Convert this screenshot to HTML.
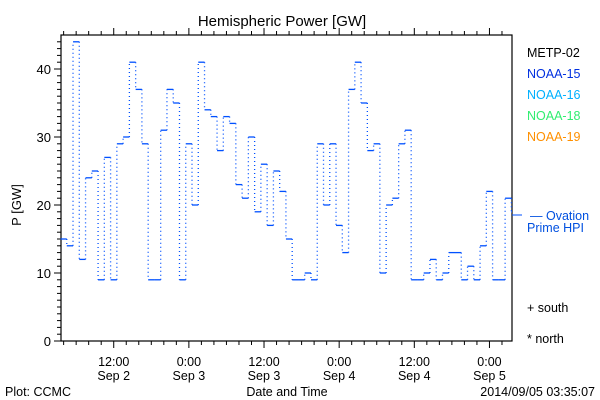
<!DOCTYPE html>
<html><head><meta charset="utf-8"><style>
html,body{margin:0;padding:0;background:#fff;}
svg{display:block;font-family:"Liberation Sans",sans-serif;}
</style></head><body>
<svg id="chart" width="600" height="400" viewBox="0 0 600 400" xmlns="http://www.w3.org/2000/svg">
<rect width="600" height="400" fill="#fff"/>
<text x="282" y="26" font-size="15" text-anchor="middle">Hemispheric Power [GW]</text>
<text transform="translate(21,205) rotate(-90)" font-size="13" text-anchor="middle">P [GW]</text>
<rect x="61" y="35" width="451" height="306" fill="none" stroke="#000" stroke-width="1.2"/>
<g id="yaxis"></g>
<g id="xaxis"></g>
<g id="series"></g>
<line x1="512" y1="215" x2="522" y2="215" stroke="#0050ff" stroke-width="1"/>
<g font-size="12.5">
<text x="527" y="57" fill="#000">METP-02</text>
<text x="527" y="78" fill="#0030e0">NOAA-15</text>
<text x="527" y="99" fill="#00b0ff">NOAA-16</text>
<text x="527" y="120" fill="#30ee70">NOAA-18</text>
<text x="527" y="141" fill="#ff9000">NOAA-19</text>
<text x="530" y="220" fill="#0050e0">— Ovation</text>
<text x="527" y="232" fill="#0050e0">Prime HPI</text>
<text x="527" y="312" fill="#000">+ south</text>
<text x="527" y="343" fill="#000">* north</text>
</g>
<text x="287" y="396" font-size="12.5" text-anchor="middle">Date and Time</text>
<text x="5" y="396" font-size="12.5">Plot: CCMC</text>
<text x="595" y="396" font-size="12.5" text-anchor="end">2014/09/05 03:35:07</text>
</svg>
<script>
const values = [15,14,44,12,24,25,9,27,9,29,30,41,37,29,9,9,31,37,35,9,29,20,41,34,33,28,33,32,23,21,30,19,26,17,25,22,15,9,9,10,9,29,20,29,17,13,37,41,35,28,29,10,20,21,29,31,9,9,10,12,9,10,13,13,9,11,9,14,22,9,9,21,19];
const startHour = 3.5;
const stepHours = 1;
const xTickHours = [12,24,36,48,60,72];
const xTickLine1 = ["12:00","0:00","12:00","0:00","12:00","0:00"];
const xTickLine2 = ["Sep 2","Sep 3","Sep 3","Sep 4","Sep 4","Sep 5"];
const yTicks = [0,10,20,30,40];

const NS="http://www.w3.org/2000/svg";
const L=61,R=512,T=35,B=341,xMin=3.58,xMax=75.6,yMax=45;
const xs=h=>L+(h-xMin)/(xMax-xMin)*(R-L);
const ys=v=>B-v/yMax*(B-T);
function mk(tag,attrs,parent){const e=document.createElementNS(NS,tag);for(const k in attrs)e.setAttribute(k,attrs[k]);parent.appendChild(e);return e;}
const yax=document.getElementById('yaxis'),xax=document.getElementById('xaxis'),ser=document.getElementById('series');
for(let v=0;v<=44;v+=1){
  const y=ys(v),len=(v%10===0)?7:4;
  const t=mk('line',{x1:L-len,y1:y,x2:L,y2:y,stroke:'#000','stroke-width':1},yax);
  
  
}
yTicks.forEach(v=>{
  const t=mk('text',{x:L-10,y:ys(v)+5,'font-size':13,'text-anchor':'end'},yax);
  t.textContent=v;
  
  
});
for(let h=4;h<=75;h+=2){
  const x=xs(h),len=(h%12===0)?7:4;
  const t=mk('line',{x1:x,y1:B,x2:x,y2:B+len,stroke:'#000','stroke-width':1},xax);
  
  
  const t2=mk('line',{x1:x,y1:T,x2:x,y2:T-len,stroke:'#000','stroke-width':1},xax);
  
  
}
xTickHours.forEach((h,i)=>{
  const a=mk('text',{x:xs(h),y:366,'font-size':12.5,'text-anchor':'middle'},xax);
  a.textContent=xTickLine1[i];
  
  
  const b=mk('text',{x:xs(h),y:380,'font-size':12.5,'text-anchor':'middle'},xax);
  b.textContent=xTickLine2[i];
  
  
});
const col='#0050ff';
values.forEach((v,i)=>{
  const h0=startHour+i*stepHours,h1=Math.min(h0+stepHours,xMax);
  if(h0>=xMax)return;
  const s=mk('line',{x1:xs(h0),y1:ys(v),x2:xs(h1),y2:ys(v),stroke:col,'stroke-width':1.3},ser);
  
  
  if(i>0){
    const d=mk('line',{x1:xs(h0),y1:ys(values[i-1]),x2:xs(h0),y2:ys(v),stroke:col,'stroke-width':1.3,'stroke-dasharray':'1 3'},ser);
    
    
  }
});
</script>
</body></html>
